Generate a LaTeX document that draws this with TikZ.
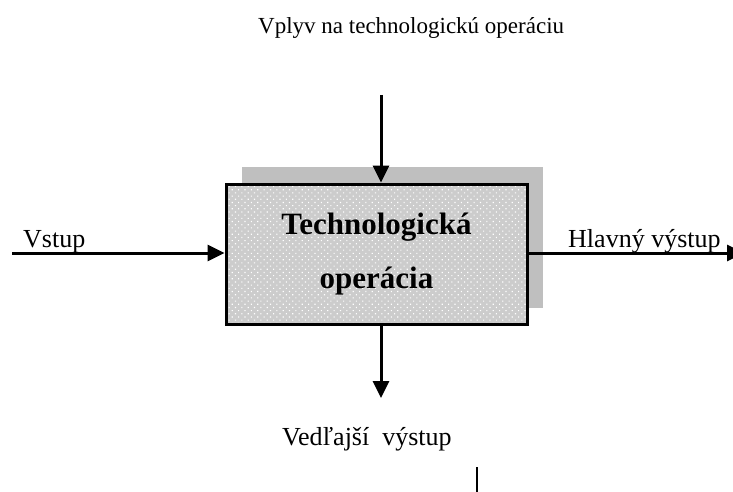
\documentclass[tikz,border=0pt]{standalone}
\usepackage{fontspec}
\setmainfont{Liberation Serif}
\usepackage{tikz}
\usetikzlibrary{arrows.meta, positioning, patterns.meta}

\begin{document}
\begin{tikzpicture}[
  x=1pt, y=-1pt,
  shadowbox/.style={rectangle, fill=black!25, minimum width=301pt, minimum height=141pt, inner sep=0pt},
  opbox/.style={rectangle, draw, line width=3pt,
                preaction={fill=black!20},
                preaction={pattern={Dots[distance=4.5pt, angle=45, radius=0.8pt]}, pattern color=white},
                minimum width=301pt, minimum height=140pt, align=center,
                font=\fontsize{31}{54}\selectfont\bfseries},
  lbl/.style={inner sep=0pt, font=\fontsize{26}{30}\selectfont},
  heading/.style={inner sep=0pt, font=\fontsize{23}{28}\selectfont},
  flow/.style={-{Triangle[length=17pt, width=16pt]}, line width=3pt},
]
  \useasboundingbox (0,0) rectangle (733,492);

  \node[shadowbox] (shadow) at (392.5,237.5) {};
  \node[opbox] (op) at (376.5,254) {Technologická\\operácia};

  \coordinate (in) at (12,253);
  \coordinate (out) at (744,253);
  \coordinate (top) at (381,95);
  \coordinate (bot) at (381,398);

  \draw[flow] (in) -- (in -| op.west);
  \draw[flow] (op.east |- out) -- (out);
  \draw[flow] (top) -- (top |- op.north);
  \draw[flow] (bot |- op.south) -- (bot);

  \node[heading, anchor=base west] (vplyv) at (258,34) {Vplyv na technologickú operáciu};
  \node[lbl, anchor=base west] (vstup) at (23,247) {Vstup};
  \node[lbl, anchor=base west] (hlavny) at (568,247) {Hlavný výstup};
  \node[lbl, anchor=base west] (vedlajsi) at (282,445) {Vedľajší~ výstup};

  \draw[line width=2pt] (477,467) -- (477,492);
\end{tikzpicture}
\end{document}
